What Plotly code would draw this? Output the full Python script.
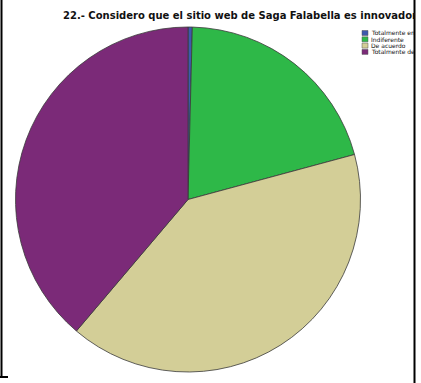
import plotly.graph_objects as go

W, H = 421, 383

# Survey answers for question 22 (counts per response)
labels = ["Totalmente en desacuerdo", "Indiferente", "De acuerdo", "Totalmente de acuerdo"]
counts = [1, 51, 101, 97]
colors = ["#3E58AC", "#2EB848", "#D3CE97", "#7B2A78"]
title = "22.- Considero que el sitio web de Saga Falabella es innovador"


def px(x):
    return x / W


def py(y):
    return 1 - y / H


fig = go.Figure(
    go.Pie(
        labels=labels,
        values=counts,
        sort=False,
        direction="clockwise",
        rotation=0,
        textinfo="none",
        hoverinfo="label+value+percent",
        marker=dict(colors=colors, line=dict(color="#3a3a3a", width=0.8)),
        domain=dict(x=[px(15), px(361)], y=[py(372), py(27)]),
        showlegend=False,
    )
)

shapes = []
annotations = []

# Legend drawn as small swatches with labels clipped at the frame
for i, (lab, col) in enumerate(zip(labels, colors)):
    cy = 33 + i * 6.3
    shapes.append(dict(type="rect", xref="paper", yref="paper",
                       x0=px(362), x1=px(368), y0=py(cy + 2.5), y1=py(cy - 2.5),
                       fillcolor=col, line=dict(color="#555555", width=0.5)))
    annotations.append(dict(text=lab, xref="paper", yref="paper",
                            x=px(370), y=py(cy), xanchor="left", yanchor="middle",
                            width=43, align="left", showarrow=False, borderpad=0,
                            font=dict(family="DejaVu Sans", size=6, color="#111111")))

# Chart title, clipped at the frame edge
annotations.append(dict(text="<b>" + title + "</b>", xref="paper", yref="paper",
                        x=px(62), y=py(16), xanchor="left", yanchor="middle",
                        width=414 - 62, align="left", showarrow=False, borderpad=0,
                        font=dict(family="DejaVu Sans", size=10, color="#111111")))

# Frame lines
shapes += [
    dict(type="line", xref="paper", yref="paper", x0=px(1.5), x1=px(1.5), y0=py(0), y1=py(377),
         line=dict(color="black", width=2)),
    dict(type="line", xref="paper", yref="paper", x0=px(0), x1=px(8), y0=py(377), y1=py(377),
         line=dict(color="black", width=2)),
    dict(type="line", xref="paper", yref="paper", x0=px(414.5), x1=px(414.5), y0=py(0), y1=py(383),
         line=dict(color="black", width=2)),
]

fig.update_layout(
    width=W, height=H,
    margin=dict(l=0, r=0, t=0, b=0),
    paper_bgcolor="white",
    plot_bgcolor="white",
    shapes=shapes,
    annotations=annotations,
)

fig.write_html("out.html")
